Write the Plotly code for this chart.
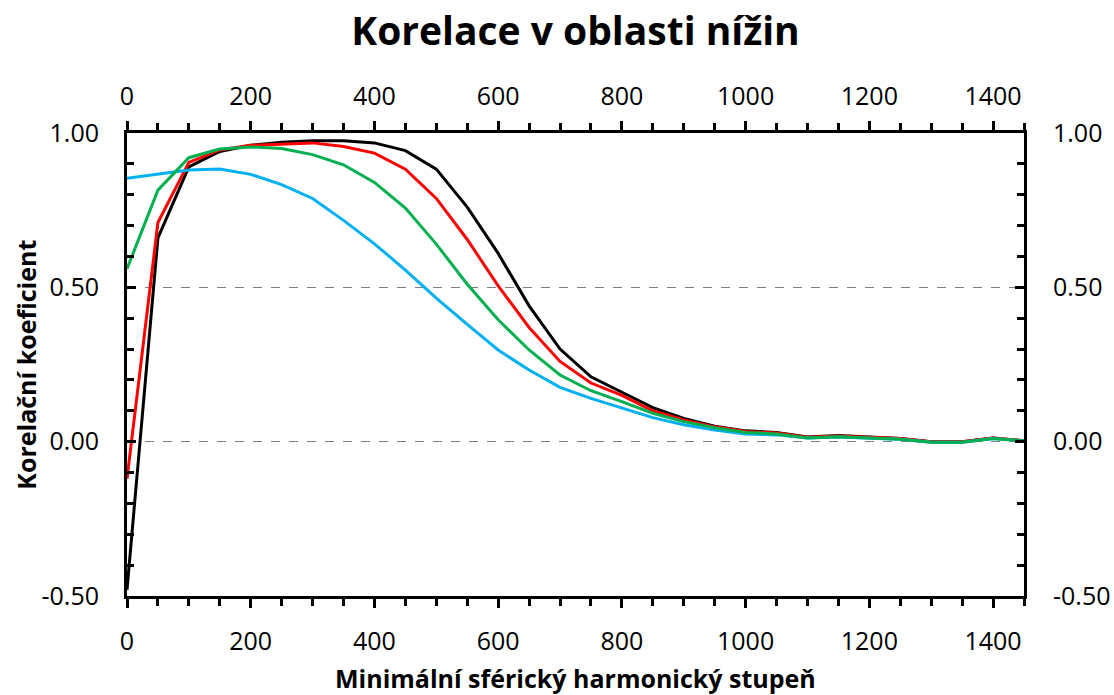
import plotly.graph_objects as go

# Minimal spherical harmonic degree (x) and correlation coefficients per series
degree = [0, 50, 100, 150, 200, 250, 300, 350, 400, 450, 500, 550, 600, 650, 700,
          750, 800, 850, 900, 950, 1000, 1050, 1100, 1150, 1200, 1250, 1300, 1350, 1400, 1450]

corr_black = [-0.48, 0.66, 0.89, 0.94, 0.96, 0.97, 0.975, 0.975, 0.968, 0.943, 0.883, 0.76, 0.61, 0.44, 0.30,
              0.21, 0.16, 0.11, 0.075, 0.05, 0.035, 0.03, 0.015, 0.02, 0.015, 0.01, 0.0, 0.0, 0.012, 0.003]
corr_red = [-0.12, 0.71, 0.905, 0.945, 0.96, 0.965, 0.968, 0.956, 0.935, 0.883, 0.788, 0.655, 0.505, 0.37, 0.26,
            0.19, 0.15, 0.10, 0.07, 0.048, 0.033, 0.028, 0.014, 0.018, 0.014, 0.01, 0.0, 0.0, 0.012, 0.003]
corr_green = [0.56, 0.815, 0.92, 0.948, 0.955, 0.95, 0.93, 0.897, 0.84, 0.757, 0.64, 0.51, 0.395, 0.297, 0.216,
              0.165, 0.13, 0.092, 0.065, 0.045, 0.03, 0.025, 0.012, 0.016, 0.012, 0.008, -0.002, -0.002, 0.01, 0.002]
corr_blue = [0.853, 0.866, 0.88, 0.883, 0.866, 0.833, 0.788, 0.717, 0.641, 0.556, 0.465, 0.38, 0.297, 0.232, 0.176,
             0.14, 0.11, 0.078, 0.055, 0.038, 0.025, 0.022, 0.012, 0.015, 0.011, 0.008, -0.002, -0.002, 0.01, 0.002]

x_ticks = [0, 200, 400, 600, 800, 1000, 1200, 1400]
y_ticks = [-0.5, 0.0, 0.5, 1.0]
y_tick_text = ["-0.50", "0.00", "0.50", "1.00"]

FONT = "Open Sans, Noto Sans, sans-serif"
TICK_FONT = dict(family=FONT, size=25, color="black")
AXIS_TITLE_FONT = dict(family=FONT, size=25, color="black")

fig = go.Figure()
series = [
    (corr_black, "#000000"),
    (corr_red, "#FF0000"),
    (corr_blue, "#00B0F0"),
    (corr_green, "#00B050"),
]
for vals, col in series:
    fig.add_trace(go.Scatter(x=degree, y=vals, mode="lines",
                             line=dict(color=col, width=3), showlegend=False,
                             hoverinfo="skip"))

# invisible trace so the secondary (top/right) axes are drawn
fig.add_trace(go.Scatter(x=[degree[0], degree[-1]], y=[y_ticks[0], y_ticks[-1]],
                         xaxis="x2", yaxis="y2", mode="lines",
                         line=dict(width=0, color="rgba(0,0,0,0)"),
                         showlegend=False, hoverinfo="skip"))

common_x = dict(range=[0, 1450], tickvals=x_ticks, ticktext=[str(v) for v in x_ticks],
                showline=True, linecolor="black", linewidth=3, mirror=False,
                ticks="outside", ticklen=9, tickwidth=3, tickcolor="black",
                minor=dict(dtick=50, tick0=0, ticks="outside", ticklen=7,
                           tickwidth=3, tickcolor="black", showgrid=False),
                showgrid=False, zeroline=False, tickfont=TICK_FONT, automargin=False)

common_y = dict(range=[-0.5, 1.0], tickvals=y_ticks, ticktext=y_tick_text,
                showline=True, linecolor="black", linewidth=3,
                ticks="inside", ticklen=9, tickwidth=3, tickcolor="black",
                minor=dict(dtick=0.1, tick0=0, ticks="inside", ticklen=7,
                           tickwidth=3, tickcolor="black", showgrid=False),
                zeroline=False, tickfont=TICK_FONT, automargin=False)

fig.update_layout(
    width=1114, height=695,
    margin=dict(l=127, r=90, t=133, b=99),
    paper_bgcolor="white", plot_bgcolor="white",
    title=dict(text="<b>Korelace v oblasti nížin</b>", x=0.5, xref="paper",
               xanchor="center", y=0.955, yanchor="middle",
               font=dict(family=FONT, size=39, color="black")),
    xaxis=dict(**common_x, side="bottom", anchor="y", ticklabelstandoff=12),
    xaxis2=dict(**common_x, side="top", overlaying="x", anchor="y", ticklabelstandoff=6),
    yaxis=dict(**common_y, side="left", anchor="x",
               showgrid=True, gridcolor="#808080", gridwidth=1, griddash="dash",
               ticklabelstandoff=20),
    yaxis2=dict(**common_y, side="right", overlaying="y", anchor="x",
                showgrid=False, ticklabelstandoff=21),
    annotations=[
        dict(text="<b>Minimální sférický harmonický stupeň</b>", xref="paper", yref="paper",
             x=0.5, y=-0.177, xanchor="center", yanchor="middle", showarrow=False,
             font=AXIS_TITLE_FONT),
        dict(text="<b>Korelační koeficient</b>", xref="paper", yref="paper",
             x=-0.1135, y=0.5, xanchor="center", yanchor="middle", showarrow=False,
             textangle=-90, font=AXIS_TITLE_FONT),
    ],
)

fig.write_html("out.html")
